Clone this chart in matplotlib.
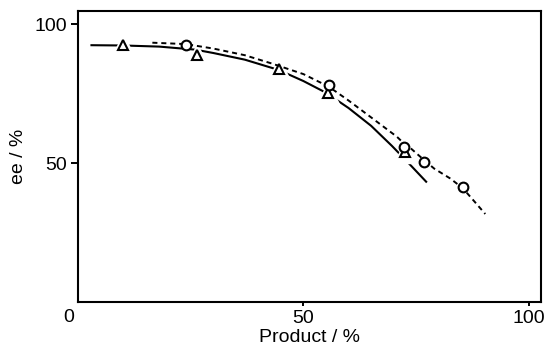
import numpy as np
import matplotlib
matplotlib.use("Agg")
import matplotlib.pyplot as plt

plt.rcParams['font.family'] = ['Liberation Sans', 'DejaVu Sans']

# measured points
tri_x = [9.9, 26.5, 44.5, 55.4, 72.6]
tri_y = [92.4, 88.8, 83.8, 75.1, 54.1]
circ_x = [23.9, 55.6, 72.3, 76.8, 85.3]
circ_y = [92.4, 78.1, 55.9, 50.5, 41.3]

# fitted curves
tri_fit_x = [3, 10, 18, 26, 30, 37, 44.5, 50, 55, 60, 65, 69.6, 73.3, 77.2]
tri_fit_y = [92.4, 92.3, 91.9, 90.8, 89.6, 87.2, 83.5, 79.5, 75.3, 69.8, 63.4, 56.2, 50.0, 43.3]
circ_fit_x = [16.5, 23.9, 30, 37, 43, 50, 55.6, 60, 63.3, 67, 70.7, 72.3, 74, 76.8, 79, 82.5, 85.3, 88, 90.3]
circ_fit_y = [93.3, 92.8, 91.2, 88.8, 85.8, 82.0, 77.5, 72.5, 68.5, 64.0, 59.5, 57.0, 55.0, 51.0, 48.0, 44.5, 41.0, 36.0, 31.7]

fig = plt.figure(figsize=(5.45, 3.55), dpi=100)
ax = fig.add_axes([0.143, 0.149, 0.85, 0.82])

ax.plot(tri_fit_x, tri_fit_y, color='black', lw=1.5, zorder=1)
# white masks make the gaps round the triangles
ax.plot(tri_x, tri_y, '^', ms=16, mfc='white', mec='white', ls='none', zorder=2)
ax.plot(circ_fit_x, circ_fit_y, color='black', lw=1.4, ls=(0, (2.6, 2.0)), zorder=3)
ax.plot(tri_x, tri_y, '^', ms=6.5, mfc='white', mec='black', mew=1.5, ls='none', zorder=4)
ax.plot(circ_x, circ_y, 'o', ms=7, mfc='white', mec='black', mew=1.5, ls='none', zorder=4)

ax.set_xlim(0, 102.7)
ax.set_ylim(0, 104.7)
ax.set_xticks([50, 100])
ax.set_yticks([50, 100])
ax.tick_params(axis='x', direction='out', length=3, width=1.4, pad=3, labelsize=14)
ax.tick_params(axis='y', direction='out', length=5, width=1.4, pad=3, labelsize=14)
for s in ax.spines.values():
    s.set_linewidth(1.5)

ax.annotate('0', xy=(0, 0), xycoords='axes fraction', xytext=(-7, -5),
            textcoords='offset points', ha='center', va='top', fontsize=14)

ax.set_xlabel('Product / %', fontsize=14, labelpad=1)
ax.set_ylabel('ee / %', fontsize=14, labelpad=5)

fig.savefig('out.png', dpi=100)
